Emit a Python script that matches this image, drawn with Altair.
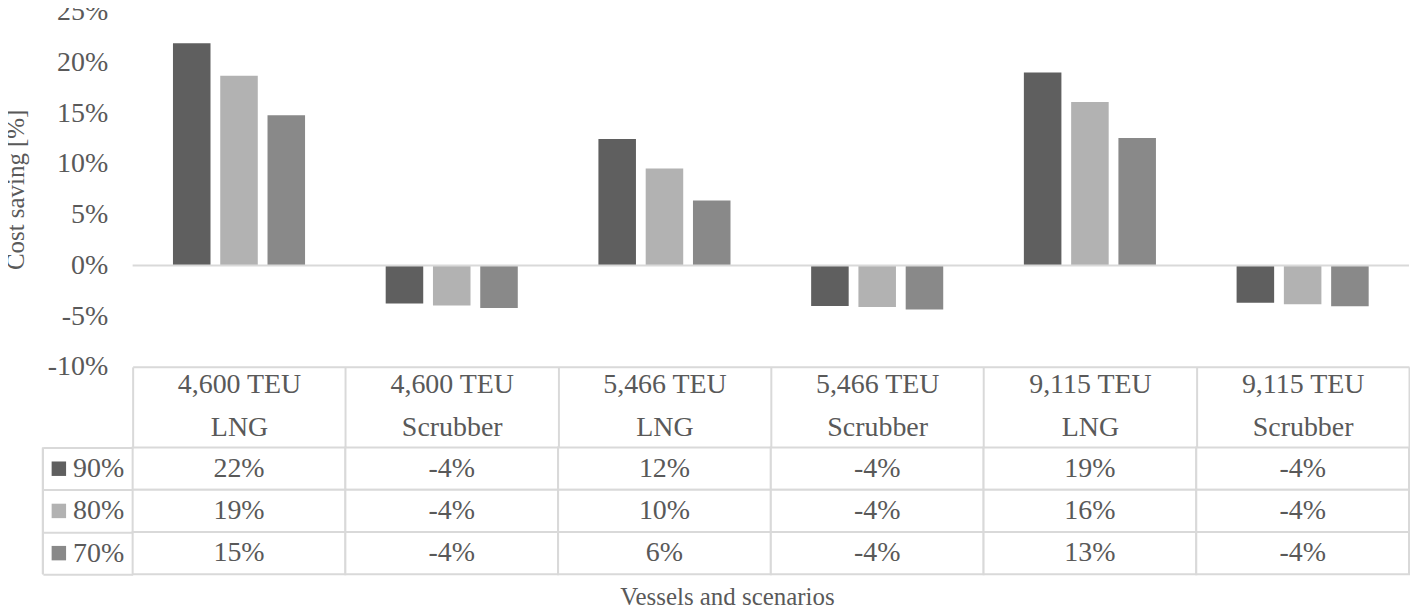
import altair as alt
import pandas as pd

# ---- data ----
vessels = ["4,600 TEU", "4,600 TEU", "5,466 TEU", "5,466 TEU", "9,115 TEU", "9,115 TEU"]
scenarios = ["LNG", "Scrubber", "LNG", "Scrubber", "LNG", "Scrubber"]
series = ["90%", "80%", "70%"]
values_90 = [21.9, -3.76, 12.47, -4.0, 19.03, -3.67]
values_80 = [18.7, -3.96, 9.55, -4.1, 16.1, -3.83]
values_70 = [14.8, -4.19, 6.4, -4.35, 12.55, -4.03]
colors = ["#5f5f5f", "#b2b2b2", "#898989"]
y_ticks = [-10, -5, 0, 5, 10, 15, 20, 25]

categories = [f"{v}|{s}" for v, s in zip(vessels, scenarios)]
rows = []
for s, vals in zip(series, [values_90, values_80, values_70]):
    for c, v in zip(categories, vals):
        rows.append({"category": c, "series": s, "value": v,
                     "label": f"{round(v):d}%"})
df = pd.DataFrame(rows)

FONT = "Liberation Serif"
TXT = "#595959"
GRID = "#d9d9d9"
W = 1280

x_scale = alt.Scale(domain=categories, paddingInner=0, paddingOuter=0)
color_scale = alt.Scale(domain=series, range=colors)

base = alt.Chart(df)

bars = base.mark_bar().encode(
    x=alt.X("category:N", scale=x_scale, sort=categories,
            axis=alt.Axis(orient="bottom", title=None, domain=True,
                          domainColor=GRID, domainWidth=2,
                          ticks=True, tickBand="extent", tickSize=81,
                          tickColor=GRID, tickWidth=2,
                          labelAngle=0, labelFont=FONT, labelFontSize=28,
                          labelColor=TXT, labelPadding=-77,
                          labelLineHeight=43, labelBaseline="top",
                          labelLimit=400,
                          labelExpr="split(datum.label, '|')")),
    xOffset=alt.XOffset("series:N", sort=series,
                        scale=alt.Scale(domain=series, paddingInner=0.206,
                                        paddingOuter=0.853)),
    y=alt.Y("value:Q",
            scale=alt.Scale(domain=[-10, 25], nice=False, zero=False),
            axis=alt.Axis(values=y_ticks, labelExpr="datum.value + '%'",
                          domain=False, ticks=False, grid=False,
                          labelFont=FONT, labelFontSize=28, labelColor=TXT,
                          labelPadding=25, title="Cost saving [%]",
                          titleFont=FONT, titleFontSize=25,
                          titleFontWeight="normal", titleColor=TXT,
                          titlePadding=19)),
    color=alt.Color("series:N", scale=color_scale, legend=None),
)

zero = alt.Chart(pd.DataFrame({"z": [0]})).mark_rule(
    color=GRID, strokeWidth=2).encode(y=alt.Y("z:Q"))

top = alt.layer(bars, zero).properties(width=W, height=356)

# ---- data table below ----
tx = alt.X("category:N", scale=x_scale, sort=categories,
           axis=alt.Axis(orient="bottom", labels=False, ticks=False,
                         domain=False, title="Vessels and scenarios",
                         titleFont=FONT, titleFontSize=25,
                         titleFontWeight="normal", titleColor=TXT,
                         titlePadding=10, titleX=596))
ty = alt.Y("series:N", sort=series,
           scale=alt.Scale(domain=series, paddingInner=0, paddingOuter=0),
           axis=alt.Axis(orient="left", title=None, domain=False,
                         ticks=True, tickBand="extent", tickSize=90,
                         tickColor=GRID, tickWidth=2,
                         labelFont=FONT, labelFontSize=28, labelColor=TXT,
                         labelPadding=-81))

cells = base.mark_rect(fill="white", stroke=GRID, strokeWidth=2).encode(
    x=tx, y=ty)
texts = base.mark_text(font=FONT, fontSize=28, color=TXT,
                       baseline="middle").encode(
    x=tx, y=ty, text="label:N")

sw_df = pd.DataFrame({"series": series})
swatches = alt.Chart(sw_df).mark_point(
    shape="square", filled=True, opacity=1, size=210).encode(
    x=alt.value(-74), y=ty,
    color=alt.Color("series:N", scale=color_scale, legend=None))
left_border = alt.Chart(sw_df).mark_rule(color=GRID, strokeWidth=2).encode(
    x=alt.value(-90), y=alt.value(0), y2=alt.value(127))

table = alt.layer(cells, texts, swatches, left_border).properties(
    width=W, height=127)

chart = alt.vconcat(top, table, spacing=81, bounds="flush").resolve_scale(
    x="independent", y="independent"
).properties(
    padding={"left": -5, "top": -11, "right": 0, "bottom": 0},
    background="white",
).configure_view(strokeWidth=0)

chart.save("out.html", embed_options={"renderer": "svg", "actions": False})
